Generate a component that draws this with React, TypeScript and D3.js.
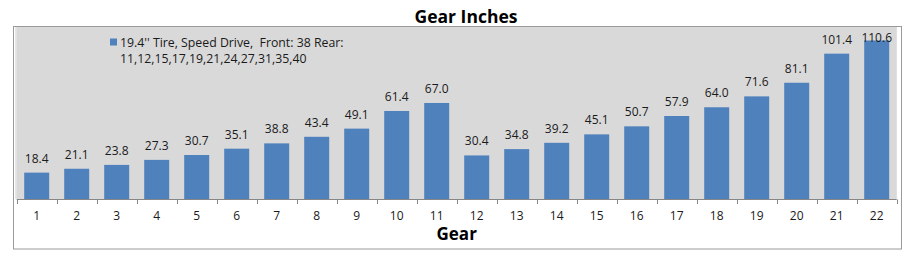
import React from "react";
import * as d3 from "d3";

const gears: string[] = ["1","2","3","4","5","6","7","8","9","10","11","12","13","14","15","16","17","18","19","20","21","22"];
const gearInches: number[] = [18.4,21.1,23.8,27.3,30.7,35.1,38.8,43.4,49.1,61.4,67.0,30.4,34.8,39.2,45.1,50.7,57.9,64.0,71.6,81.1,101.4,110.6];
const seriesLabelLines: string[] = ["19.4'' Tire, Speed Drive,  Front: 38 Rear:", "11,12,15,17,19,21,24,27,31,35,40"];
const chartTitle = "Gear Inches";
const xTitle = "Gear";

const W = 913, H = 265;
const plot = { left: 16.7, right: 896.7, top: 27, bottom: 199 };
const FONT = "'Open Sans', sans-serif";

export default function App() {
  const x = d3.scaleBand<string>().domain(gears).range([plot.left, plot.right]).paddingInner(0.375).paddingOuter(0.1875);
  const y = d3.scaleLinear().domain([0, 120]).range([plot.bottom, plot.top]);
  const step = x.step();
  const ticks = d3.range(gears.length + 1).map((i) => plot.left + i * step);
  return (
    <svg width={W} height={H} style={{ position: "absolute", left: 0, top: 0 }} fontFamily={FONT}>
      <rect x={0} y={0} width={W} height={H} fill="#ffffff" />
      <rect x={13.5} y={26.5} width={888} height={222.5} fill="#ffffff" stroke="#9a9a9a" strokeWidth={1} />
      <rect x={15} y={27} width={plot.right - 15} height={plot.bottom - 27} fill="#e6e6e6" />
      <rect x={plot.left} y={27} width={plot.right - plot.left} height={plot.bottom - 27} fill="#d9d9d9" />
      {gears.map((g, i) => (
        <rect key={g} x={x(g)} y={y(gearInches[i])} width={x.bandwidth()} height={plot.bottom - y(gearInches[i])} fill="#4f81bd" />
      ))}
      {gears.map((g, i) => (
        <text key={"v" + g} x={(x(g) ?? 0) + x.bandwidth() / 2} y={Math.max(y(gearInches[i]) - 10, 42)} textAnchor="middle" fontSize={12} fill="#1a1a1a">
          {gearInches[i].toFixed(1)}
        </text>
      ))}
      <line x1={plot.left} x2={plot.right} y1={199.5} y2={199.5} stroke="#868686" strokeWidth={1} />
      {ticks.map((t, i) => (
        <line key={"t" + i} x1={Math.round(t) + 0.5} x2={Math.round(t) + 0.5} y1={199.5} y2={204} stroke="#868686" strokeWidth={1} />
      ))}
      {gears.map((g) => (
        <text key={"l" + g} x={(x(g) ?? 0) + x.bandwidth() / 2} y={220} textAnchor="middle" fontSize={12} fill="#1a1a1a">
          {g}
        </text>
      ))}
      <text x={(plot.left + plot.right) / 2} y={240} textAnchor="middle" fontSize={17} fontWeight="bold" fill="#000">
        {xTitle}
      </text>
      <text x={466} y={23} textAnchor="middle" fontSize={17.5} fontWeight="bold" fill="#000">
        {chartTitle}
      </text>
      <rect x={110} y={38.5} width={7} height={7} fill="#4f81bd" />
      {seriesLabelLines.map((s, i) => (
        <text key={"s" + i} x={120} y={47 + i * 16} fontSize={12.3} fill="#1a1a1a" style={{ whiteSpace: "pre" }}>
          {s}
        </text>
      ))}
    </svg>
  );
}
